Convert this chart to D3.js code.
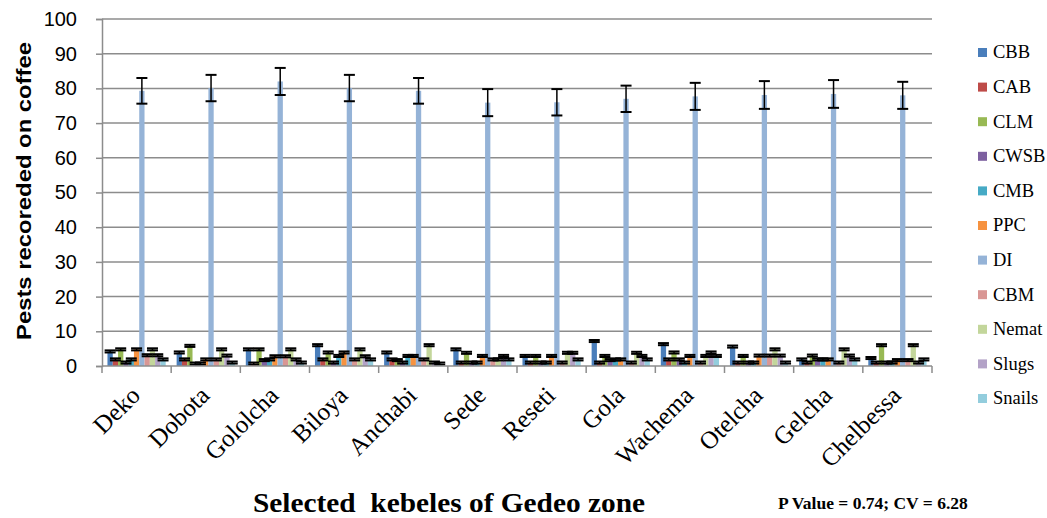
<!DOCTYPE html>
<html>
<head>
    <script type="text/javascript" src="https://d3js.org/d3.v7.min.js"></script>
    <style>
        body { margin: 0; background: #fff; }
        svg text { fill: #000; }
    </style>
</head>
<body>
<div id="chart"></div>
<script>
    // kebeles (x categories)
    var kebeles = ["Deko", "Dobota", "Gololcha", "Biloya", "Anchabi", "Sede",
        "Reseti", "Gola", "Wachema", "Otelcha", "Gelcha", "Chelbessa"];
    var pests = ["CBB", "CAB", "CLM", "CWSB", "CMB", "PPC", "DI", "CBM", "Nemat", "Slugs", "Snails"];
    var colors = ["#4A7EBB", "#BE4B48", "#98B954", "#7D60A0", "#46AAC5", "#F69240",
        "#95B3D7", "#D99694", "#C3D69B", "#B3A2C7", "#93CDDD"];

    // one array per pest, values per kebele
    var CBB    = [4.2, 3.9, 4.8, 6.0, 3.9, 4.8, 2.9, 7.2, 6.3, 5.6, 1.9, 2.3];
    var CAB    = [1.9, 1.9, 0.7, 1.9, 1.9, 1.0, 1.0, 1.0, 1.9, 1.0, 1.0, 1.0];
    var CLM    = [4.8, 5.8, 4.8, 3.9, 1.7, 3.8, 2.9, 2.9, 3.9, 2.9, 3.0, 6.0];
    var CWSB   = [1.0, 0.7, 1.7, 1.0, 1.0, 1.0, 1.0, 1.7, 1.9, 1.0, 1.9, 1.0];
    var CMB    = [1.9, 0.7, 1.9, 2.9, 2.9, 1.0, 1.0, 1.9, 1.0, 1.0, 1.9, 1.0];
    var PPC    = [4.8, 1.9, 2.8, 3.9, 2.9, 2.9, 2.9, 1.9, 2.9, 3.0, 1.9, 1.7];
    var DI     = [79.3, 80.1, 82.0, 80.1, 79.3, 75.9, 76.0, 77.0, 77.7, 78.1, 78.4, 78.0];
    var CBM    = [3.1, 1.9, 2.8, 1.9, 1.9, 1.9, 1.0, 1.0, 1.0, 3.0, 1.0, 1.7];
    var Nemat  = [4.8, 4.8, 4.8, 4.8, 6.0, 1.9, 3.8, 3.8, 2.9, 4.8, 4.8, 6.0];
    var Slugs  = [3.1, 3.0, 1.9, 2.8, 1.0, 2.9, 3.8, 2.9, 3.9, 3.0, 3.0, 1.0];
    var Snails = [1.9, 1.0, 1.0, 1.9, 0.7, 1.9, 1.9, 1.9, 2.9, 1.0, 1.9, 1.9];
    var series = [CBB, CAB, CLM, CWSB, CMB, PPC, DI, CBM, Nemat, Slugs, Snails];

    // error (half length of error bars)
    var DIerr = [3.7, 3.8, 3.9, 3.8, 3.7, 3.9, 3.8, 3.8, 3.9, 4.0, 4.0, 3.9];
    var smallErr = 0.3;

    var yTicks = [0, 10, 20, 30, 40, 50, 60, 70, 80, 90, 100];

    var width = 1047, height = 518;
    var svg = d3.select("#chart").append("svg")
        .attr("width", width).attr("height", height);

    var plotLeft = 102, plotRight = 932, plotTop = 19, plotBottom = 366;

    var x0 = d3.scaleBand().domain(kebeles).range([plotLeft, plotRight]);
    var gap = x0.bandwidth() * 0.079;
    var x1 = d3.scaleBand().domain(pests).range([gap, x0.bandwidth() - gap]);
    var y = d3.scaleLinear().domain([0, 100]).range([plotBottom, plotTop]);

    // gridlines
    svg.append("g").selectAll("line").data(yTicks.filter(d => d > 0)).enter()
        .append("line")
        .attr("x1", plotLeft).attr("x2", plotRight)
        .attr("y1", d => y(d)).attr("y2", d => y(d))
        .attr("stroke", "#8c8c8c").attr("stroke-width", 1.5);

    // y axis
    var yAxis = svg.append("g").attr("transform", "translate(" + plotLeft + ",0)")
        .call(d3.axisLeft(y).tickValues(yTicks).tickSize(6).tickPadding(19));
    yAxis.select(".domain").attr("stroke", "#8c8c8c").attr("stroke-width", 1.5);
    yAxis.selectAll(".tick line").attr("stroke", "#8c8c8c").attr("stroke-width", 1.5);
    yAxis.selectAll(".tick text").attr("font-family", "'Liberation Sans', Arial, sans-serif")
        .attr("font-size", 20).attr("fill", "#000");

    // bars
    var groups = svg.append("g").selectAll("g").data(kebeles).enter()
        .append("g").attr("transform", d => "translate(" + x0(d) + ",0)");

    groups.each(function (k, ki) {
        var g = d3.select(this);
        pests.forEach(function (p, pi) {
            var v = series[pi][ki];
            g.append("rect")
                .attr("x", x1(p)).attr("width", x1.bandwidth())
                .attr("y", y(v)).attr("height", y(0) - y(v))
                .attr("fill", colors[pi]);
        });
    });

    // error bars
    groups.each(function (k, ki) {
        var g = d3.select(this);
        pests.forEach(function (p, pi) {
            var v = series[pi][ki];
            var e = p === "DI" ? DIerr[ki] : smallErr;
            var cx = x1(p) + x1.bandwidth() / 2;
            var cw = 5.5;
            g.append("line").attr("x1", cx).attr("x2", cx)
                .attr("y1", y(v + e)).attr("y2", y(Math.max(0, v - e)))
                .attr("stroke", "#000").attr("stroke-width", 1.5);
            [v + e, Math.max(0, v - e)].forEach(function (t) {
                g.append("line").attr("x1", cx - cw).attr("x2", cx + cw)
                    .attr("y1", y(t)).attr("y2", y(t))
                    .attr("stroke", "#000").attr("stroke-width", 2);
            });
        });
    });

    // x axis
    svg.append("line").attr("x1", plotLeft).attr("x2", plotRight)
        .attr("y1", plotBottom).attr("y2", plotBottom)
        .attr("stroke", "#8c8c8c").attr("stroke-width", 1.5);
    svg.append("g").selectAll("line").data(kebeles.concat(["end"])).enter()
        .append("line")
        .attr("x1", (d, i) => plotLeft + i * x0.bandwidth())
        .attr("x2", (d, i) => plotLeft + i * x0.bandwidth())
        .attr("y1", plotBottom).attr("y2", plotBottom + 7)
        .attr("stroke", "#8c8c8c").attr("stroke-width", 1.5);

    svg.append("g").selectAll("text").data(kebeles).enter()
        .append("text")
        .attr("transform", d => "translate(" + (x0(d) + x0.bandwidth() / 2 + 5) + "," + (plotBottom + 31) + ") rotate(-45)")
        .attr("text-anchor", "end")
        .attr("font-family", "'Liberation Serif', 'Times New Roman', serif")
        .attr("font-size", 25)
        .text(d => d);

    // axis titles
    svg.append("text")
        .attr("transform", "translate(31,191) rotate(-90)")
        .attr("text-anchor", "middle")
        .attr("font-family", "'Liberation Sans', Arial, sans-serif")
        .attr("font-weight", "bold").attr("font-size", 21)
        .attr("textLength", 298).attr("lengthAdjust", "spacingAndGlyphs")
        .text("Pests recoreded on coffee");

    svg.append("text")
        .attr("x", 449).attr("y", 512)
        .attr("text-anchor", "middle")
        .attr("font-family", "'Liberation Serif', 'Times New Roman', serif")
        .attr("font-weight", "bold").attr("font-size", 27)
        .attr("textLength", 392).attr("lengthAdjust", "spacingAndGlyphs")
        .attr("xml:space", "preserve")
        .text("Selected  kebeles of Gedeo zone");

    svg.append("text")
        .attr("x", 778).attr("y", 509)
        .attr("font-family", "'Liberation Serif', 'Times New Roman', serif")
        .attr("font-weight", "bold").attr("font-size", 17.5)
        .text("P Value = 0.74; CV = 6.28");

    // legend
    var legend = svg.append("g").selectAll("g").data(pests).enter()
        .append("g").attr("transform", (d, i) => "translate(978," + (52 + i * 34.6) + ")");
    legend.append("rect").attr("x", 0).attr("y", -4).attr("width", 9).attr("height", 9)
        .attr("fill", (d, i) => colors[i]);
    legend.append("text").attr("x", 15).attr("y", 0).attr("dy", "0.35em")
        .attr("font-family", "'Liberation Serif', 'Times New Roman', serif")
        .attr("font-size", 18.5)
        .text(d => d);
</script>
</body>
</html>
